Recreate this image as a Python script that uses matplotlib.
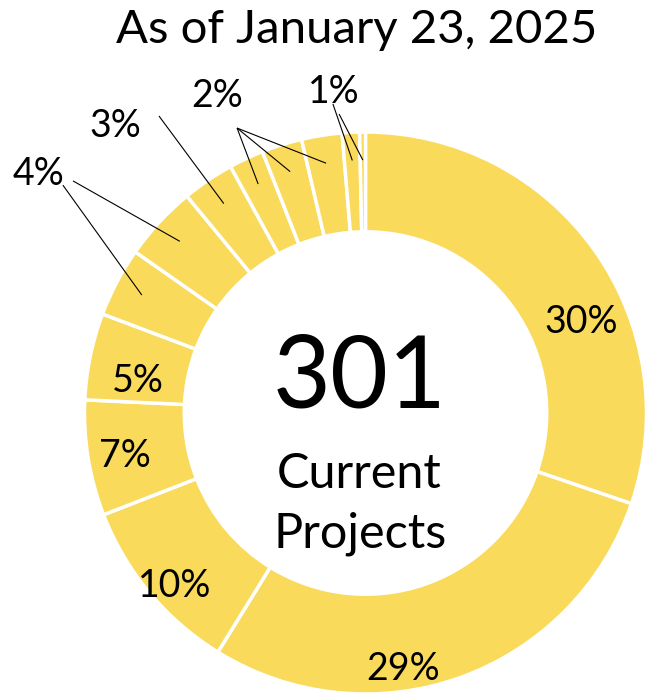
import numpy as np
import matplotlib.pyplot as plt

# project counts per slice, clockwise from 12 o'clock (301 in total)
counts = [91, 86, 31, 20, 15, 12, 13, 9, 6, 7, 7, 3, 1]
pct_labels = ['30%', '29%', '10%', '7%', '5%', '4%', '4%', '3%',
              '2%', '2%', '2%', '1%', '1%']
title = 'As of January 23, 2025'
total_text = '301'
sub_text = ['Current', 'Projects']

color = '#F9DA5B'
plt.rcParams['font.family'] = ['Lato', 'DejaVu Sans']

# label spots (data units, donut radius = 1)
inside_pos = {0: (0.767, 0.285), 1: (0.133, -0.950), 2: (-0.678, -0.655),
              3: (-0.856, -0.192), 4: (-0.810, 0.075)}
group_pos = {'4%': (-1.162, 0.811), '3%': (-0.891, 0.982),
             '2%': (-0.528, 1.089), '1%': (-0.112, 1.103)}
leader_start = {5: (-1.077, 0.811), 6: (-1.041, 0.826), 7: (-0.735, 1.057),
                8: (-0.457, 1.014), 9: (-0.457, 1.014), 10: (-0.457, 1.014),
                11: (-0.116, 1.100), 12: (-0.094, 1.064)}

fig = plt.figure(figsize=(6.46, 6.98), dpi=100)
ax = fig.add_axes([0, 0, 1, 1])

wedges, _ = ax.pie(counts, startangle=90, counterclock=False, colors=[color],
                   radius=1.0,
                   wedgeprops=dict(width=0.355, edgecolor='white', linewidth=2.5))

for i, (x, y) in inside_pos.items():
    ax.text(x, y, pct_labels[i], ha='center', va='baseline', fontsize=27)

for lab, (x, y) in group_pos.items():
    ax.text(x, y, lab, ha='center', va='baseline', fontsize=27)

for i, (x0, y0) in leader_start.items():
    w = wedges[i]
    mid = np.deg2rad((w.theta1 + w.theta2) / 2)
    ax.plot([x0, 0.9 * np.cos(mid)], [y0, 0.9 * np.sin(mid)],
            color='black', lw=0.8, solid_capstyle='butt')

# centre text
ax.text(-0.021, 0.018, total_text, ha='center', va='baseline', fontsize=72)
ax.text(-0.023, -0.267, sub_text[0], ha='center', va='baseline', fontsize=35)
ax.text(-0.020, -0.480, sub_text[1], ha='center', va='baseline', fontsize=35)
ax.text(-0.030, 1.317, title, ha='center', va='baseline', fontsize=34)

ax.set_xlim(-1.3007, 0.9982)
ax.set_ylim(-1.0142, 1.4698)
ax.axis('off')

fig.savefig('out.png', dpi=100)
